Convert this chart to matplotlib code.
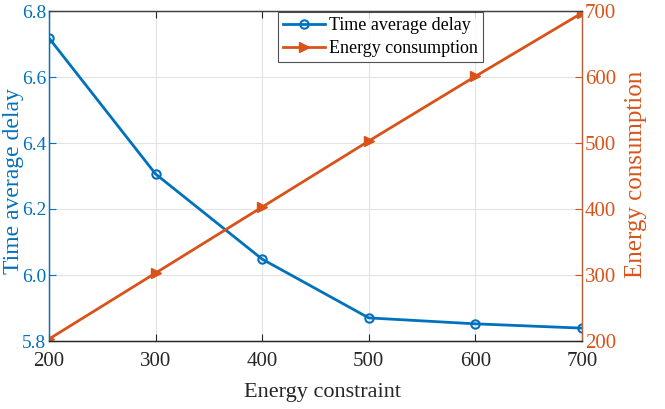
import numpy as np
import matplotlib
matplotlib.use('Agg')
import matplotlib.pyplot as plt

plt.rcParams['font.family'] = ['Liberation Serif', 'DejaVu Serif']
plt.rcParams['mathtext.fontset'] = 'stix'

#  Data
energy_constraint = [200, 300, 400, 500, 600, 700]
time_average_delay = [6.718, 6.306, 6.048, 5.870, 5.852, 5.839]
energy_consumption = [203, 303, 403, 503, 601, 697]

blue = '#0072BD'
orange = '#D95319'

fig = plt.figure(figsize=(6.65, 4.09), dpi=100)
ax1 = fig.add_axes([49/665, 1 - 341/409, 533/665, 330/409])
ax2 = ax1.twinx()

l1, = ax1.plot(energy_constraint, time_average_delay, color=blue, lw=2,
               marker='o', ms=6, mfc='none', mew=1.5, label='Time average delay')
l2, = ax2.plot(energy_constraint, energy_consumption, color=orange, lw=2,
               marker='>', ms=7, mfc=orange, label='Energy consumption')

ax1.set_xlim(200, 700)
ax1.set_ylim(5.8, 6.8)
ax2.set_ylim(200, 700)
ax1.set_xticks(energy_constraint)
ax1.set_yticks(np.arange(5.8, 6.81, 0.2))
ax1.set_yticklabels(['5.8', '6.0', '6.2', '6.4', '6.6', '6.8'])
ax2.set_yticks([200, 300, 400, 500, 600, 700])

ax1.grid(True, color='#e3e3e3', lw=0.8)
ax1.set_axisbelow(True)

ax1.set_xlabel('Energy constraint', fontsize=16, color='#262626')
ax1.set_ylabel('Time average delay', fontsize=17, color=blue)
ax2.set_ylabel('Energy consumption', fontsize=18, color=orange)
ax1.xaxis.set_label_coords(0.513, -0.126)
ax1.yaxis.set_label_coords(-0.047, 0.486)
ax2.yaxis.set_label_coords(1.080, 0.506)

ax1.tick_params(axis='x', direction='in', labelsize=15, colors='#262626', length=5, pad=8)
ax1.tick_params(axis='y', direction='in', labelsize=14, colors=blue, length=5, pad=2)
ax2.tick_params(axis='y', direction='in', labelsize=15, colors=orange, length=5, pad=2)
ax1.tick_params(top=True, which='both', direction='in')

for ax in (ax1, ax2):
    ax.spines['top'].set_color('#404040')
    ax.spines['bottom'].set_color('#262626')
    ax.spines['left'].set_color(blue)
    ax.spines['right'].set_color('#b5643d')
    for s in ax.spines.values():
        s.set_linewidth(0.9)

leg = ax1.legend(handles=[l1, l2], loc='upper left',
                 bbox_to_anchor=(278/665, 1 - 12/409), bbox_transform=fig.transFigure,
                 fontsize=13, frameon=True, fancybox=False, edgecolor='#262626',
                 handlelength=2.3, handletextpad=0.2, borderpad=0.3, labelspacing=0.3,
                 borderaxespad=0)
leg.get_frame().set_linewidth(0.8)

fig.savefig('out.png', dpi=100)
